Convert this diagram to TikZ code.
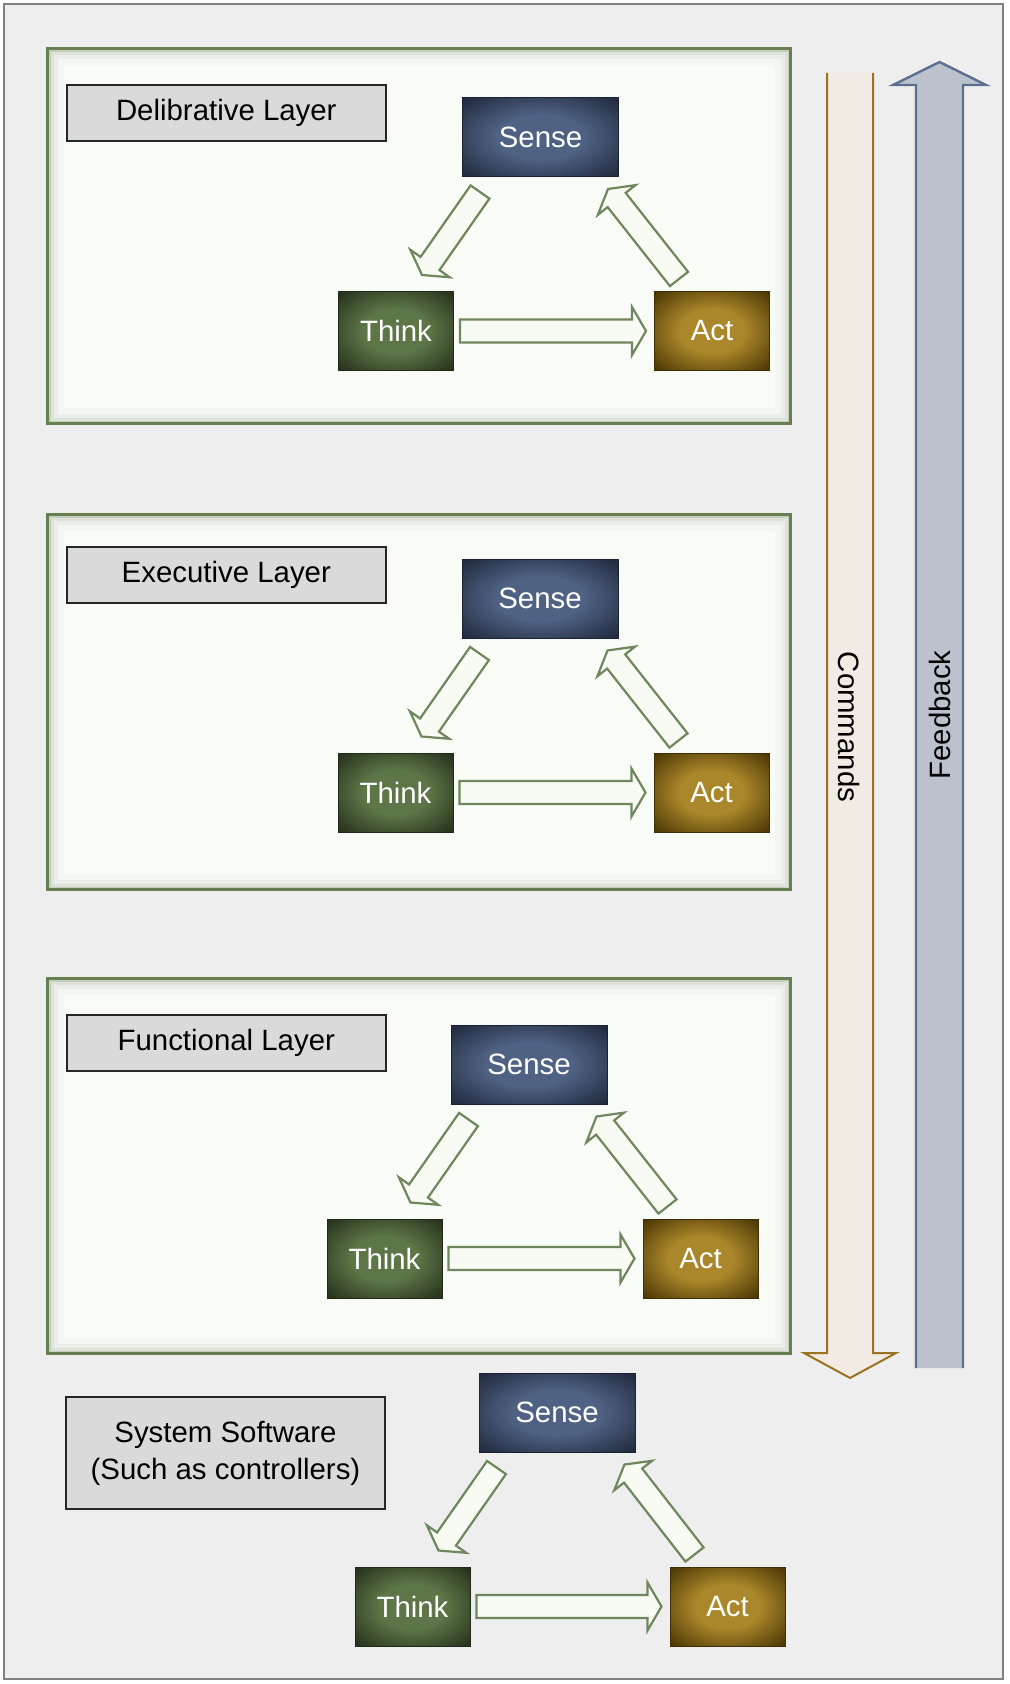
\documentclass[tikz,border=0pt]{standalone}
\usepackage{fontspec}
\setmainfont{Liberation Sans}
\usepackage{tikz}
\usetikzlibrary{positioning, calc}

\definecolor{pagebg}{HTML}{EEEEEE}
\definecolor{pageline}{HTML}{808080}
\definecolor{layerline}{HTML}{657F51}
\definecolor{layerfill}{HTML}{F9FBF6}
\definecolor{tagfill}{HTML}{DADADA}
\definecolor{senseIn}{HTML}{4F6283}
\definecolor{senseOut}{HTML}{222B3F}
\definecolor{thinkIn}{HTML}{5E7647}
\definecolor{thinkOut}{HTML}{27331D}
\definecolor{actIn}{HTML}{AA872A}
\definecolor{actOut}{HTML}{4E3906}
\definecolor{flowline}{HTML}{6F875E}
\definecolor{flowfill}{HTML}{F8FAF4}
\definecolor{cmdline}{HTML}{9A7222}
\definecolor{cmdfill}{HTML}{F2EBE3}
\definecolor{fbline}{HTML}{5B7090}
\definecolor{fbfill}{HTML}{BCC2CD}

% softer box shading, dark only towards the rim
\makeatletter
\pgfdeclareradialshading[tikz@radial@inner,tikz@radial@outer]{rimglow}{\pgfpoint{0bp}{0bp}}{%
  color(0bp)=(tikz@radial@inner); color(14bp)=(tikz@radial@inner);
  color(34bp)=(tikz@radial@outer); color(50bp)=(tikz@radial@outer)}
\makeatother

\begin{document}
\begin{tikzpicture}[
    x=0.5pt, y=-0.5pt,
    txt/.style={font=\fontsize{14.7pt}{18.5pt}\selectfont},
    layer/.style={rectangle, draw=layerline, line width=1.6pt, fill=layerfill, minimum width=371.5pt, minimum height=187.5pt, anchor=north west,
        path picture={
            \draw[layerline!7, line width=16pt] (path picture bounding box.south west) rectangle (path picture bounding box.north east);
            \draw[layerline!13, line width=10pt] (path picture bounding box.south west) rectangle (path picture bounding box.north east);
            \draw[layerline!22, line width=6pt] (path picture bounding box.south west) rectangle (path picture bounding box.north east);
            \draw[layerline!38, line width=3pt] (path picture bounding box.south west) rectangle (path picture bounding box.north east);
        }},
    tag/.style={rectangle, draw=black!85, line width=0.8pt, fill=tagfill, minimum width=159.5pt, minimum height=28pt, align=center, txt},
    stage/.style={rectangle, draw=#1Out!80!black, line width=0.5pt, inner color=#1In, outer color=#1Out, shading=rimglow, minimum width=57.5pt, minimum height=39.5pt, inner sep=0pt, text=white, txt},
    flow/.style={draw=flowline, line width=1.1pt, fill=flowfill, line join=miter,
        to path={let \p1=(\tikztostart), \p2=(\tikztotarget), \n1={atan2(\y2-\y1,\x2-\x1)} in
            ($(\p1)+(\n1+90:5.75pt)$) -- ($(\p2)+(\n1+180:7pt)+(\n1+90:5.75pt)$)
            -- ($(\p2)+(\n1+180:7pt)+(\n1+90:12pt)$) -- (\p2)
            -- ($(\p2)+(\n1+180:7pt)+(\n1-90:12pt)$) -- ($(\p2)+(\n1+180:7pt)+(\n1-90:5.75pt)$)
            -- ($(\p1)+(\n1-90:5.75pt)$) -- cycle}},
]
    \useasboundingbox (0,0) rectangle (1009,1684);
    \draw[pageline, fill=pagebg, line width=1.2pt] (4,4) rectangle (1003,1679);

    % Layer frames
    \node[layer] (layer1) at (46,47) {};
    \node[layer] (layer2) at (46,513) {};
    \node[layer] (layer3) at (46,977) {};

    % Delibrative layer
    \node[tag, below right=18.5pt and 10pt of layer1.north west] (tag1) {Delibrative Layer};
    \node[stage=sense, minimum width=78pt] (sense1) at (540.5,137) {Sense};
    \node[stage=act, below right=57pt and 17.5pt of sense1.south east] (act1) {Act};
    \node[stage=think, left=100pt of act1] (think1) {Think};
    \draw[flow] ([shift={(9pt,-7.5pt)}]sense1.south west) to ([shift={(13pt,8pt)}]think1.north);
    \draw[flow] ([xshift=3pt]think1.east) to ([xshift=-4pt]act1.west);
    \draw[flow] ([shift={(12.5pt,6pt)}]act1.north west) to ([shift={(-5.5pt,-6pt)}]sense1.south east);

    % Executive layer
    \node[tag, below right=16.5pt and 10pt of layer2.north west] (tag2) {Executive Layer};
    \node[stage=sense, minimum width=78pt] (sense2) at (540,598.5) {Sense};
    \node[stage=act, below right=57pt and 17.5pt of sense2.south east] (act2) {Act};
    \node[stage=think, left=100pt of act2] (think2) {Think};
    \draw[flow] ([shift={(9pt,-7.5pt)}]sense2.south west) to ([shift={(13pt,8pt)}]think2.north);
    \draw[flow] ([xshift=3pt]think2.east) to ([xshift=-4pt]act2.west);
    \draw[flow] ([shift={(12.5pt,6pt)}]act2.north west) to ([shift={(-5.5pt,-6pt)}]sense2.south east);

    % Functional layer
    \node[tag, below right=18.5pt and 10pt of layer3.north west] (tag3) {Functional Layer};
    \node[stage=sense, minimum width=78pt] (sense3) at (529,1064.5) {Sense};
    \node[stage=act, below right=57pt and 17.5pt of sense3.south east] (act3) {Act};
    \node[stage=think, left=100pt of act3] (think3) {Think};
    \draw[flow] ([shift={(9pt,-7.5pt)}]sense3.south west) to ([shift={(13pt,8pt)}]think3.north);
    \draw[flow] ([xshift=3pt]think3.east) to ([xshift=-4pt]act3.west);
    \draw[flow] ([shift={(12.5pt,6pt)}]act3.north west) to ([shift={(-5.5pt,-6pt)}]sense3.south east);

    % System software
    \node[tag, minimum height=56pt] (tag4) at (225.5,1453) {System Software\\(Such as controllers)};
    \node[stage=sense, minimum width=78pt] (sense4) at (557,1412.5) {Sense};
    \node[stage=act, below right=57pt and 17pt of sense4.south east] (act4) {Act};
    \node[stage=think, left=99.5pt of act4] (think4) {Think};
    \draw[flow] ([shift={(9pt,-7.5pt)}]sense4.south west) to ([shift={(13pt,8pt)}]think4.north);
    \draw[flow] ([xshift=3pt]think4.east) to ([xshift=-4pt]act4.west);
    \draw[flow] ([shift={(12.5pt,6pt)}]act4.north west) to ([shift={(-5.5pt,-6pt)}]sense4.south east);

    % Commands and feedback
    \path[fill=cmdfill, draw=cmdline, line width=1pt] (827,73) -- (827,1353) -- (804,1353) -- (850,1378) -- (896,1353) -- (873,1353) -- (873,73);
    \path[fill=fbfill, draw=fbline, line width=1.2pt] (916,1368) -- (916,85) -- (893,85) -- (939.5,62) -- (986,85) -- (963,85) -- (963,1368);
    \node[txt, rotate=-90] (cmd) at (849,727) {Commands};
    \node[txt, rotate=90] (fb) at (940,715) {Feedback};
\end{tikzpicture}
\end{document}
